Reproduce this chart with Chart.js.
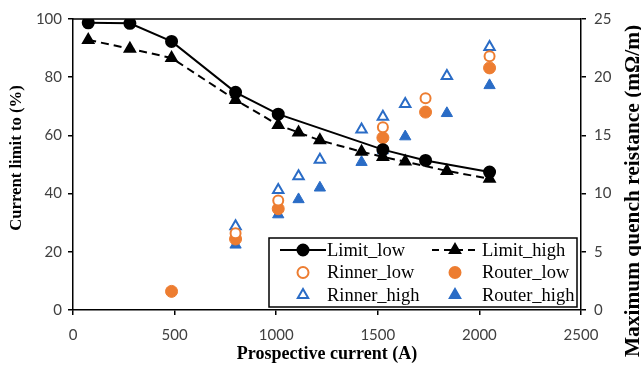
<!DOCTYPE html>
<html>
<head>
<meta charset="utf-8">
<script src="https://cdn.jsdelivr.net/npm/chart.js@4"></script>
<style>
  html, body { margin: 0; padding: 0; background: #fff; }
  #wrap { width: 641px; height: 370px; }
</style>
</head>
<body>
<div id="wrap"><canvas id="chart" width="641" height="370"></canvas></div>
<script>
// x positions (prospective current, A)
const limitLowX = [75, 280, 485, 800, 1010, 1525, 1735, 2050];
const limitLowY = [98.7, 98.5, 92.3, 74.8, 67.3, 55.1, 51.4, 47.4];
const limitHighX = [75, 280, 485, 800, 1010, 1110, 1215, 1420, 1525, 1635, 1840, 2050];
const limitHighY = [92.8, 89.8, 86.6, 72.2, 63.6, 61.0, 58.3, 54.4, 52.6, 51.0, 47.8, 45.1];

const rinnerLowX = [800, 1010, 1525, 1735, 2050];
const rinnerLowY = [6.6, 9.4, 15.7, 18.2, 21.8];
const routerLowX = [485, 800, 1010, 1525, 1735, 2050];
const routerLowY = [1.6, 6.1, 8.7, 14.8, 17.0, 20.8];
const rinnerHighX = [800, 1010, 1110, 1215, 1420, 1525, 1635, 1840, 2050];
const rinnerHighY = [7.2, 10.3, 11.5, 12.9, 15.5, 16.6, 17.7, 20.1, 22.6];
const routerHighX = [800, 1010, 1110, 1215, 1420, 1525, 1635, 1840, 2050];
const routerHighY = [5.6, 8.2, 9.5, 10.5, 12.7, 13.7, 14.9, 16.9, 19.3];

const xTitle = "Prospective current (A)";
const yTitle = "Current limit to (%)";
const y2Title = "Maximum quench reistance (mΩ/m)";

const ORANGE = "#ED7D31";
const BLUE = "#2A6CC6";
const tickFont = { family: "Lato", size: 15 };

function pts(xs, ys) {
  return xs.map((x, i) => ({ x: x, y: ys[i] }));
}

// legend drawn inside the plot area, bottom right
const legendItems = [
  { text: "Limit_low", line: [], style: "circle", fill: "#000", stroke: "#000", col: 0, row: 0 },
  { text: "Limit_high", line: [7, 5], style: "triangle", fill: "#000", stroke: "#000", col: 1, row: 0 },
  { text: "Rinner_low", style: "circle", fill: "#fff", stroke: ORANGE, col: 0, row: 1 },
  { text: "Router_low", style: "circle", fill: ORANGE, stroke: ORANGE, col: 1, row: 1 },
  { text: "Rinner_high", style: "triangle", fill: "#fff", stroke: BLUE, col: 0, row: 2 },
  { text: "Router_high", style: "triangle", fill: BLUE, stroke: BLUE, col: 1, row: 2 }
];

// bold serif title rotated to read upwards, sized to a given length
function rotatedText(ctx, text, x, y, length) {
  ctx.save();
  ctx.font = "bold 20px 'Liberation Serif'";
  const size = 20 * length / ctx.measureText(text).width;
  ctx.translate(x, y);
  ctx.rotate(-Math.PI / 2);
  ctx.font = "bold " + size.toFixed(1) + "px 'Liberation Serif'";
  ctx.textAlign = "center";
  ctx.textBaseline = "middle";
  ctx.fillText(text, 0, 0);
  ctx.restore();
}

const framePlugin = {
  id: "frame",
  afterDraw(chart) {
    const ctx = chart.ctx;
    const a = chart.chartArea;
    ctx.save();
    ctx.strokeStyle = "#000";
    ctx.lineWidth = 1.5;
    ctx.beginPath();
    ctx.moveTo(a.left, a.top);
    ctx.lineTo(a.right, a.top);
    ctx.stroke();

    // axis titles
    ctx.fillStyle = "#000";
    ctx.font = "bold 18px 'Liberation Serif'";
    ctx.textAlign = "center";
    ctx.textBaseline = "middle";
    ctx.fillText(xTitle, (a.left + a.right) / 2, 354);
    rotatedText(ctx, yTitle, 17, 158, 146);
    rotatedText(ctx, y2Title, 633, 191, 332);

    // legend box
    const bx = 269, by = 238, bw = 308, bh = 69;
    ctx.fillStyle = "#fff";
    ctx.fillRect(bx, by, bw, bh);
    ctx.lineWidth = 1.5;
    ctx.strokeStyle = "#000";
    ctx.strokeRect(bx, by, bw, bh);
    ctx.font = "18.5px 'Liberation Serif'";
    ctx.textBaseline = "middle";
    legendItems.forEach(it => {
      const cx = it.col === 0 ? 303 : 455;
      const tx = it.col === 0 ? 327 : 482;
      const cy = 250 + it.row * 22.5;
      if (it.line) {
        ctx.setLineDash(it.line);
        ctx.lineWidth = 2;
        ctx.strokeStyle = "#000";
        ctx.beginPath();
        ctx.moveTo(cx - 23, cy);
        ctx.lineTo(cx + 23, cy);
        ctx.stroke();
        ctx.setLineDash([]);
      }
      ctx.fillStyle = it.fill;
      ctx.strokeStyle = it.stroke;
      ctx.lineWidth = 2;
      ctx.beginPath();
      if (it.style === "circle") {
        ctx.arc(cx, cy, 5.5, 0, Math.PI * 2);
      } else {
        const r = 6;
        ctx.moveTo(cx, cy - r);
        ctx.lineTo(cx + r * 0.866, cy + r / 2);
        ctx.lineTo(cx - r * 0.866, cy + r / 2);
        ctx.closePath();
      }
      ctx.fill();
      ctx.stroke();
      ctx.fillStyle = "#000";
      ctx.textAlign = "left";
      ctx.fillText(it.text, tx, cy + 1);
    });
    ctx.restore();
  }
};

new Chart(document.getElementById("chart"), {
  type: "scatter",
  data: {
    datasets: [
      {
        label: "Limit_low",
        data: pts(limitLowX, limitLowY),
        yAxisID: "y",
        showLine: true,
        borderColor: "#000",
        backgroundColor: "#000",
        borderWidth: 2,
        pointStyle: "circle",
        pointRadius: 5.5,
        pointHoverRadius: 5.5
      },
      {
        label: "Limit_high",
        data: pts(limitHighX, limitHighY),
        yAxisID: "y",
        showLine: true,
        borderColor: "#000",
        backgroundColor: "#000",
        borderWidth: 2,
        borderDash: [8, 5],
        pointStyle: "triangle",
        pointRadius: 6,
        pointHoverRadius: 6
      },
      {
        label: "Rinner_low",
        data: pts(rinnerLowX, rinnerLowY),
        yAxisID: "y2",
        borderColor: ORANGE,
        backgroundColor: "#fff",
        pointBorderWidth: 2,
        pointStyle: "circle",
        pointRadius: 5,
        pointHoverRadius: 5
      },
      {
        label: "Router_low",
        data: pts(routerLowX, routerLowY),
        yAxisID: "y2",
        borderColor: ORANGE,
        backgroundColor: ORANGE,
        pointStyle: "circle",
        pointRadius: 6,
        pointHoverRadius: 6
      },
      {
        label: "Rinner_high",
        data: pts(rinnerHighX, rinnerHighY),
        yAxisID: "y2",
        borderColor: BLUE,
        backgroundColor: "#fff",
        pointBorderWidth: 2,
        pointStyle: "triangle",
        pointRadius: 6,
        pointHoverRadius: 6
      },
      {
        label: "Router_high",
        data: pts(routerHighX, routerHighY),
        yAxisID: "y2",
        borderColor: BLUE,
        backgroundColor: BLUE,
        pointStyle: "triangle",
        pointRadius: 6.5,
        pointHoverRadius: 6.5
      }
    ]
  },
  options: {
    responsive: false,
    animation: false,
    layout: { padding: { top: 19, left: 0, right: 0, bottom: 0 } },
    plugins: { legend: { display: false }, tooltip: { enabled: false } },
    scales: {
      x: {
        type: "linear",
        min: 0,
        max: 2500,
        ticks: { stepSize: 500, color: "#404040", font: tickFont, padding: 11, maxRotation: 0, callback: v => String(v) },
        grid: { display: true, drawOnChartArea: false, tickLength: 5, color: "#000", lineWidth: 1.5 },
        border: { color: "#000", width: 1.5 },
        afterFit(s) { s.height = 60; }
      },
      y: {
        position: "left",
        min: 0,
        max: 100,
        ticks: { stepSize: 20, color: "#404040", font: tickFont, padding: 6, callback: v => String(v) },
        grid: { display: true, drawOnChartArea: false, tickLength: 5, color: "#000", lineWidth: 1.5 },
        border: { color: "#000", width: 1.5 },
        afterFit(s) { s.width = 73; }
      },
      y2: {
        position: "right",
        min: 0,
        max: 25,
        ticks: { stepSize: 5, color: "#404040", font: tickFont, padding: 8, callback: v => String(v) },
        grid: { display: true, drawOnChartArea: false, tickLength: 5, color: "#000", lineWidth: 1.5 },
        border: { color: "#000", width: 1.5 },
        afterFit(s) { s.width = 60; }
      }
    }
  },
  plugins: [framePlugin]
});
</script>
</body>
</html>
